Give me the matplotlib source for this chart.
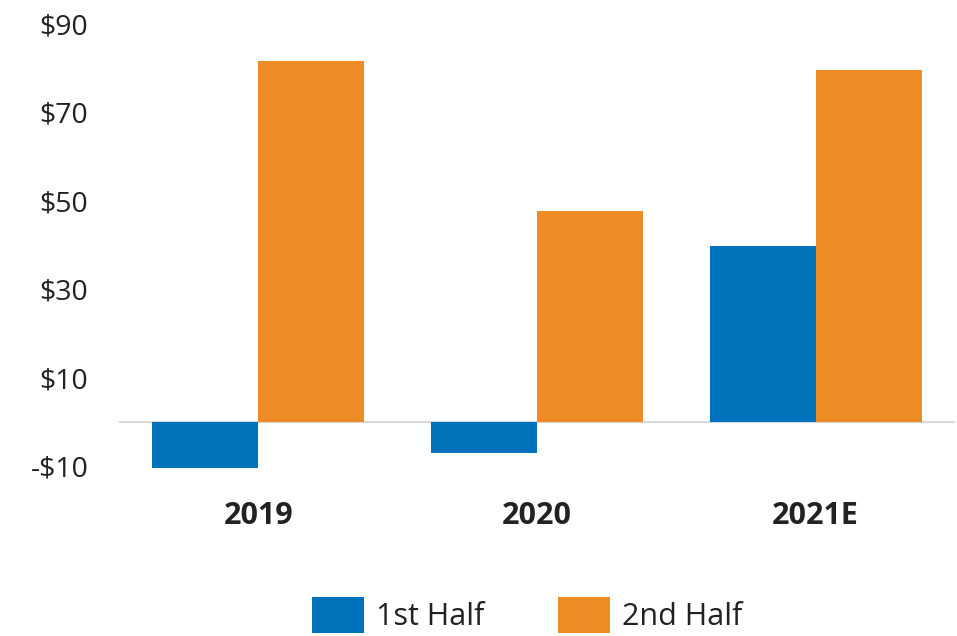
import matplotlib.pyplot as plt
import numpy as np

years = ['2019', '2020', '2021E']
first_half = [-10.4, -7.0, 39.8]
second_half = [81.6, 47.7, 79.5]
yticks = [-10, 10, 30, 50, 70, 90]

BLUE = '#0071BB'
ORANGE = '#EE8B24'

plt.rcParams['font.family'] = ['Open Sans', 'DejaVu Sans']

fig = plt.figure(figsize=(9.57, 6.36), dpi=100)
ax = fig.add_axes([119 / 957, 1 - 475 / 636, 836 / 957, 460 / 636])

x = np.arange(len(years))
w = 0.38
ax.bar(x - w / 2, first_half, w, color=BLUE, label='1st Half', zorder=2)
ax.bar(x + w / 2, second_half, w, color=ORANGE, label='2nd Half', zorder=2)
ax.axhline(0, color='#d9d9d9', lw=1.5, zorder=1)

ax.set_xlim(-0.5, 2.5)
ax.set_ylim(-12, 92)
ax.set_yticks(yticks)
ax.set_yticklabels([f'-${-v}' if v < 0 else f'${v}' for v in yticks], fontsize=20.5, color='#222222')
ax.set_xticks(x)
ax.set_xticklabels(years, fontsize=22, fontweight='bold', color='#222222')
ax.tick_params(axis='y', length=0, pad=22)
ax.tick_params(axis='x', length=0, pad=19)
for s in ax.spines.values():
    s.set_visible(False)

fig.legend(loc='center', bbox_to_anchor=(527 / 957, 1 - 615 / 636), ncol=2, frameon=False,
           fontsize=22, handlelength=1.7, handleheight=1.45, handletextpad=0.4,
           columnspacing=2.4, labelcolor='#222222')

fig.savefig('out.png', dpi=100)
